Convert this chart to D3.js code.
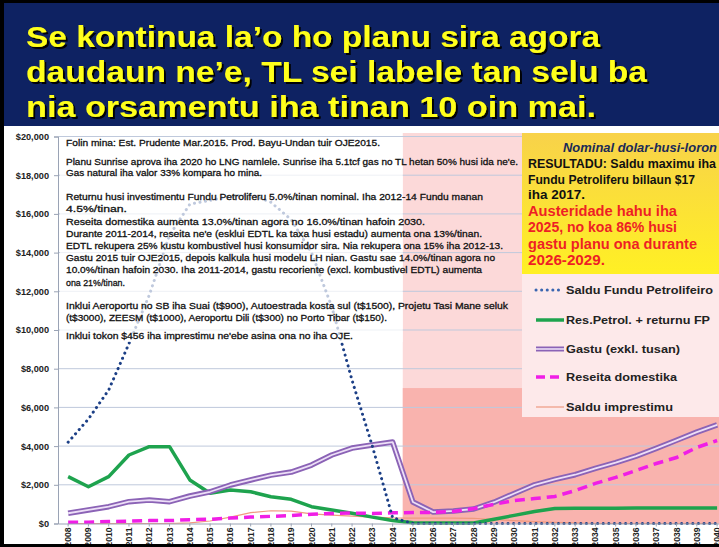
<!DOCTYPE html>
<html><head><meta charset="utf-8">
<script src="https://cdn.jsdelivr.net/npm/d3@7"></script>
<style>html,body{margin:0;padding:0;background:#000;}svg{display:block;}</style>
</head><body>
<svg id="c" width="719" height="547"></svg>
<script>
// ---------- DATA ----------
const years = ["2008","2009","2010","2011","2012","2013","2014","2015","2016","2017","2018","2019","2020","2021","2022","2023","2024","2025","2026","2027","2028","2029","2030","2031","2032","2033","2034","2035","2036","2037","2038","2039","2040"];
const petroleumFund = [4200,5400,6900,9300,11800,14900,16500,16700,16900,17000,16600,15700,14000,11200,7400,4000,300,0,0,0,0,0,0,0,0,0,0,0,0,0,0,0,0];
const petroleumRevenue = [2420,1900,2420,3540,3970,3970,2250,1560,1730,1640,1385,1250,870,700,530,330,150,40,20,20,30,220,420,620,780,790,790,790,800,800,800,800,800];
const spending = [530,700,870,1130,1210,1130,1420,1640,1990,2250,2500,2660,3020,3540,3900,4060,4210,1110,590,650,750,1100,1550,2000,2280,2520,2850,3150,3480,3880,4300,4720,5100];
const domesticRevenue = [70,70,100,120,150,150,200,220,280,330,370,410,480,520,540,520,550,570,570,620,770,990,1190,1290,1400,1700,2070,2380,2740,3100,3410,3930,4290];
const loanBalance = [0,0,0,0,0,0,30,130,330,560,660,640,500,430,380,330,290,280,280,280,270,200,150,100,60,30,0,0,0,0,0,0,0];
const yTicks = [0,2000,4000,6000,8000,10000,12000,14000,16000,18000,20000];
const austerityStart = "2025";
const darkBandTop = 7000;

const titleLines = ["Se kontinua la\u2019o ho planu sira agora","daudaun ne\u2019e, TL sei labele tan selu ba","nia orsamentu iha tinan 10 oin mai."];
const noteLines = [
 "Folin mina: Est. Prudente Mar.2015.    Prod. Bayu-Undan tuir OJE2015.",
 "Planu Sunrise aprova iha 2020 ho LNG namlele.  Sunrise iha 5.1tcf gas no TL hetan 50% husi ida ne'e.",
 "Gas natural iha valor 33% kompara ho mina.",
 "Returnu husi investimentu Fundu Petroliferu 5.0%/tinan nominal.   Iha 2012-14 Fundu manan",
 "4.5%/tinan.",
 "Reseita domestika aumenta 13.0%/tinan agora no 16.0%/tinan hafoin 2030.",
 "Durante 2011-2014, reseita ne'e (esklui EDTL ka taxa husi estadu) aumenta ona 13%/tinan.",
 "EDTL rekupera 25% kustu kombustivel husi konsumidor sira. Nia rekupera ona 15% iha 2012-13.",
 "Gastu 2015 tuir OJE2015, depois kalkula husi modelu LH nian. Gastu sae 14.0%/tinan agora no",
 "10.0%/tinan hafoin 2030. Iha 2011-2014, gastu recoriente (excl. kombustivel EDTL) aumenta",
 "ona 21%/tinan.",
 "Inklui Aeroportu no SB iha Suai (t$900), Autoestrada kosta sul (t$1500), Projetu Tasi Mane seluk",
 "(t$3000), ZEESM (t$1000), Aeroportu Dili (t$300) no Porto Tibar (t$150).",
 "Inklui tokon $456 iha imprestimu ne'ebe asina ona no iha OJE."
];
const boxTitle = "Nominal dolar-husi-loron";
const resultLines = ["RESULTADU: Saldu maximu iha","Fundu Petroliferu billaun $17","iha 2017."];
const redLines = ["Austeridade  hahu iha","2025, no koa 86% husi","gastu planu ona durante","2026-2029."];
const legendLabels = ["Saldu Fundu Petrolifeiro","Res.Petrol. + returnu FP","Gastu (exkl. tusan)","Reseita domestika","Saldu imprestimu"];

// ---------- LAYOUT ----------
const svg = d3.select("#c");
const W = 719, H = 547;
const step = 20.28, x0 = 58;
const x = d3.scaleBand().domain(years).range([x0, x0 + step*years.length]).padding(0);
const y = d3.scaleLinear().domain([0,20000]).range([523.5,136.5]);
const cx = d => x(d) + x.bandwidth()/2;
const FONT = "Liberation Sans, Arial, sans-serif";

const defs = svg.append("defs");
const f = defs.append("filter").attr("id","sh").attr("x","-5%").attr("y","-20%").attr("width","110%").attr("height","150%");
f.append("feDropShadow").attr("dx",2).attr("dy",2).attr("stdDeviation",0.6).attr("flood-color","#000").attr("flood-opacity",0.95);
const grad = defs.append("linearGradient").attr("id","yg").attr("x1",0).attr("y1",0).attr("x2",0).attr("y2",1);
grad.append("stop").attr("offset","0%").attr("stop-color","#f8d24a");
grad.append("stop").attr("offset","100%").attr("stop-color","#fff024");

// frame
svg.append("rect").attr("x",0).attr("y",0).attr("width",W).attr("height",H).attr("fill","#000");
svg.append("rect").attr("x",4).attr("y",3).attr("width",W-4).attr("height",123).attr("fill","#0e2262");
svg.append("rect").attr("x",4).attr("y",126).attr("width",W-4).attr("height",418).attr("fill","#fff");

// title
const tW = [574,621,570];
titleLines.forEach((t,i)=>{
  svg.append("text").attr("x",26).attr("y",47+i*35)
    .attr("textLength",tW[i]).attr("lengthAdjust","spacingAndGlyphs")
    .attr("font-family",FONT).attr("font-weight","bold")
    .attr("font-size",30).attr("fill","#ffff1a").attr("filter","url(#sh)").text(t);
});

// backgrounds for austerity period
const xs = x(austerityStart);
svg.append("rect").attr("x",xs).attr("y",133).attr("width",W-xs).attr("height",y(0)-133).attr("fill","#fcd9d9");
svg.append("rect").attr("x",xs).attr("y",y(darkBandTop)).attr("width",W-xs).attr("height",y(0)-y(darkBandTop)).attr("fill","#f9b3ae");

// gridlines
svg.append("g").selectAll("line").data(yTicks.filter(d=>d>0)).join("line")
  .attr("x1",x0).attr("x2",W).attr("y1",d=>y(d)).attr("y2",d=>y(d))
  .attr("stroke","#bfc9dc").attr("stroke-width",1);

// series
const line = d3.line().x((d,i)=>cx(years[i])).y(d=>y(d));
const plot = svg.append("g");
plot.append("path").attr("d",line(loanBalance)).attr("fill","none").attr("stroke","#ef9a80").attr("stroke-width",1.2);
plot.append("path").attr("d",line(petroleumRevenue)).attr("fill","none").attr("stroke","#1ea34e").attr("stroke-width",3.5).attr("stroke-linejoin","round");
plot.append("path").attr("d",line(spending)).attr("fill","none").attr("stroke","#8b63b6").attr("stroke-width",5.5).attr("stroke-linejoin","round");
plot.append("path").attr("d",line(spending)).attr("fill","none").attr("stroke","#eddff7").attr("stroke-width",1.8).attr("stroke-linejoin","round");
plot.append("path").attr("d",line(domesticRevenue)).attr("fill","none").attr("stroke","#f01ee6").attr("stroke-width",3.5).attr("stroke-dasharray","10 6");
plot.append("path").attr("d",line(petroleumFund)).attr("fill","none").attr("stroke","#1c3f86").attr("stroke-width",3).attr("stroke-linecap","round").attr("stroke-dasharray","0.1 5.5");

// semi transparent note box
svg.append("rect").attr("x",60).attr("y",137).attr("width",xs-60).attr("height",205).attr("fill","#fff").attr("opacity",0.72);

// notes
const noteY = [146,165,176,200,212,225,237,249,261,273,286,309,321,339];
const noteEnd = [380,518,262,483,127,425,482,503,495,482,125,508,387,353];
noteLines.forEach((t,i)=>{
  svg.append("text").attr("x",66).attr("y",noteY[i])
    .attr("textLength",noteEnd[i]-66).attr("lengthAdjust","spacingAndGlyphs")
    .attr("font-family",FONT).attr("font-size",9.4)
    .attr("fill","#111").attr("stroke","#111").attr("stroke-width",0.3).text(t);
});

// yellow result box
svg.append("rect").attr("x",522).attr("y",133).attr("width",W-522).attr("height",141).attr("fill","url(#yg)");
svg.append("text").attr("x",563).attr("y",152).attr("textLength",154).attr("lengthAdjust","spacingAndGlyphs")
  .attr("font-family",FONT).attr("font-size",12).attr("font-weight","bold").attr("font-style","italic")
  .attr("fill","#1b2a57").text(boxTitle);
const resEnd = [716,695,585];
resultLines.forEach((t,i)=>{
  svg.append("text").attr("x",528).attr("y",168+i*15.5)
    .attr("textLength",resEnd[i]-528).attr("lengthAdjust","spacingAndGlyphs")
    .attr("font-family",FONT).attr("font-size",12.3).attr("font-weight","bold")
    .attr("fill","#111").text(t);
});
const redEnd = [677,677,697,605];
redLines.forEach((t,i)=>{
  svg.append("text").attr("x",528).attr("y",216+i*16.3)
    .attr("textLength",redEnd[i]-528).attr("lengthAdjust","spacingAndGlyphs")
    .attr("font-family",FONT).attr("font-size",13.8).attr("font-weight","bold")
    .attr("fill","#ee1f25").text(t);
});

// legend
svg.append("rect").attr("x",522).attr("y",274).attr("width",W-522).attr("height",143).attr("fill","#fde9ea");
const legY = [290,320,349,377,407];
const legEnd = [713,710,680,677,673];
const lg = svg.append("g");
legY.forEach((ly,i)=>{
  const l1 = 536, l2 = 564;
  if(i===0) lg.append("line").attr("x1",l1).attr("x2",l2).attr("y1",ly).attr("y2",ly).attr("stroke","#3a66b0").attr("stroke-width",3).attr("stroke-linecap","round").attr("stroke-dasharray","0.1 5.5");
  if(i===1) lg.append("line").attr("x1",l1).attr("x2",l2).attr("y1",ly).attr("y2",ly).attr("stroke","#1ea34e").attr("stroke-width",3.5);
  if(i===2){ lg.append("line").attr("x1",l1).attr("x2",l2).attr("y1",ly).attr("y2",ly).attr("stroke","#8b63b6").attr("stroke-width",5);
             lg.append("line").attr("x1",l1).attr("x2",l2).attr("y1",ly).attr("y2",ly).attr("stroke","#eddff7").attr("stroke-width",1.6); }
  if(i===3) lg.append("line").attr("x1",l1).attr("x2",l2).attr("y1",ly).attr("y2",ly).attr("stroke","#f01ee6").attr("stroke-width",3.5).attr("stroke-dasharray","9 5");
  if(i===4) lg.append("line").attr("x1",l1).attr("x2",l2).attr("y1",ly).attr("y2",ly).attr("stroke","#ef9a80").attr("stroke-width",1.2);
  lg.append("text").attr("x",566).attr("y",ly+4)
    .attr("textLength",legEnd[i]-566).attr("lengthAdjust","spacingAndGlyphs")
    .attr("font-family",FONT).attr("font-size",11.5).attr("font-weight","bold")
    .attr("fill","#222").text(legendLabels[i]);
});

// axes
const ya = svg.append("g").attr("transform",`translate(${x0},0)`)
  .call(d3.axisLeft(y).tickValues(yTicks).tickSize(4).tickPadding(5).tickFormat(d=>"$"+d3.format(",")(d)));
ya.select(".domain").attr("stroke","#9aa3b5");
ya.selectAll(".tick line").attr("stroke","#9aa3b5");
ya.selectAll("text").attr("font-family",FONT).attr("font-size",9.2).attr("font-weight","bold").attr("fill","#222");

const xa = svg.append("g").attr("transform",`translate(0,${y(0)})`)
  .call(d3.axisBottom(x).tickSize(3).tickSizeOuter(0));
xa.select(".domain").attr("stroke","#9aa3b5");
xa.selectAll(".tick line").attr("stroke","#9aa3b5");
xa.selectAll("text").attr("transform","rotate(-90)").attr("x",-4).attr("y",0).attr("dy","0.35em")
  .style("text-anchor","end")
  .attr("font-family",FONT).attr("font-size",8.6).attr("font-weight","bold").attr("fill","#222");

// bottom frame strip
svg.append("rect").attr("x",0).attr("y",544).attr("width",W).attr("height",3).attr("fill","#000");
</script>
</body></html>
